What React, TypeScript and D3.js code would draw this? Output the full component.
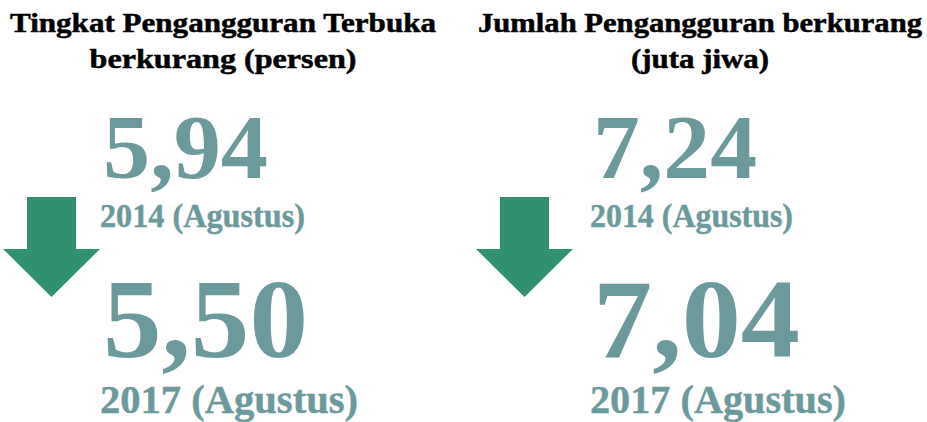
import React from "react";
import * as d3 from "d3";

const titlesLine1 = ["Tingkat Pengangguran Terbuka", "Jumlah Pengangguran berkurang"];
const titlesLine2 = ["berkurang (persen)", "(juta jiwa)"];
const values2014 = [5.94, 7.24];
const values2017 = [5.5, 7.04];
const periodLabels = ["2014 (Agustus)", "2017 (Agustus)"];

const W = 927;
const H = 422;
const TEXT = "#6b9a9c";
const ARROW = "#2f9170";
const FONT = "'Liberation Serif', 'DejaVu Serif', serif";

const locale = d3.formatLocale({ decimal: ",", thousands: ".", grouping: [3], currency: ["", ""] });
const fmt = locale.format(".2f");

export default function App() {
  const panelX = d3.scaleOrdinal<number, number>().domain([0, 1]).range([0, 490]);
  const arrowX = d3.scaleOrdinal<number, number>().domain([0, 1]).range([3, 476]);
  const titleCx = [223, 700];
  const t1W = [426, 444];
  const t2W = [267, 138];
  const big14W = [165, 164];
  const big17W = [205, 207];
  const p14W = [205, 203];
  const p17W = [258, 256];

  const arrowPath = (x0: number) => {
    const p = d3.path();
    p.moveTo(x0 + 24, 197);
    p.lineTo(x0 + 73, 197);
    p.lineTo(x0 + 73, 249);
    p.lineTo(x0 + 97, 249);
    p.lineTo(x0 + 48.5, 297);
    p.lineTo(x0, 249);
    p.lineTo(x0 + 24, 249);
    p.closePath();
    return p.toString();
  };

  return (
    <svg
      width={W}
      height={H}
      style={{ position: "absolute", left: 0, top: 0, display: "block", background: "#fff" }}
      fontFamily={FONT}
      fontWeight="bold"
    >
      {[0, 1].map((i) => {
        const x = panelX(i);
        return (
          <g key={i}>
            <text x={titleCx[i]} y={32} textAnchor="middle" fontSize={27} fill="#000"
              stroke="#000" strokeWidth={0.5}
              textLength={t1W[i]} lengthAdjust="spacingAndGlyphs">{titlesLine1[i]}</text>
            <text x={titleCx[i]} y={68} textAnchor="middle" fontSize={27} fill="#000"
              stroke="#000" strokeWidth={0.5}
              textLength={t2W[i]} lengthAdjust="spacingAndGlyphs">{titlesLine2[i]}</text>
            <text x={x + 103} y={178} fontSize={90} fill={TEXT}
              textLength={big14W[i]} lengthAdjust="spacingAndGlyphs">{fmt(values2014[i])}</text>
            <text x={x + 100} y={227} fontSize={33} fill={TEXT}
              stroke={TEXT} strokeWidth={0.4}
              textLength={p14W[i]} lengthAdjust="spacingAndGlyphs">{periodLabels[0]}</text>
            <path d={arrowPath(arrowX(i))} fill={ARROW} />
            <text x={x + 103} y={357} fontSize={113} fill={TEXT}
              textLength={big17W[i]} lengthAdjust="spacingAndGlyphs">{fmt(values2017[i])}</text>
            <text x={x + 100} y={413} fontSize={39} fill={TEXT}
              stroke={TEXT} strokeWidth={0.4}
              textLength={p17W[i]} lengthAdjust="spacingAndGlyphs">{periodLabels[1]}</text>
          </g>
        );
      })}
    </svg>
  );
}
